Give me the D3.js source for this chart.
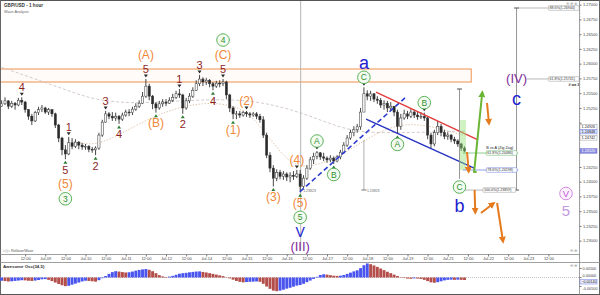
<!DOCTYPE html>
<html><head><meta charset="utf-8">
<script src="https://cdn.jsdelivr.net/npm/d3@7"></script>
<style>
html,body{margin:0;padding:0;background:#fff;}
svg{display:block;font-family:Arial,"Liberation Sans",sans-serif;}
</style></head><body>
<svg id="c" width="600" height="295"></svg>
<script>
// ---------- DATA ----------
const firstOpen = 1.2528;
const closes = [1.2532,1.2537,1.2528,1.2533,1.2530,1.2538,1.2535,1.2522,1.2511,1.2503,
1.2517,1.2522,1.2525,1.2518,1.2522,1.2515,1.2496,1.2474,1.2454,1.2447,
1.2466,1.2460,1.2467,1.2462,1.2459,1.2460,1.2455,1.2454,1.2457,1.2479,
1.2501,1.2515,1.2511,1.2508,1.2511,1.2506,1.2513,1.2518,1.2517,1.2523,
1.2528,1.2533,1.2545,1.2562,1.2545,1.2532,1.2525,1.2532,1.2535,1.2533,
1.2538,1.2543,1.2549,1.2547,1.2525,1.2537,1.2545,1.2555,1.2566,1.2574,
1.2569,1.2572,1.2566,1.2562,1.2567,1.2566,1.2569,1.2547,1.2525,1.2515,
1.2515,1.2513,1.2517,1.2515,1.2513,1.2515,1.2511,1.2505,1.2479,1.2445,
1.2423,1.2406,1.2416,1.2409,1.2413,1.2408,1.2411,1.2409,1.2413,1.2392,
1.2406,1.2423,1.2437,1.2443,1.2449,1.2442,1.2440,1.2437,1.2440,1.2435,
1.2442,1.2450,1.2462,1.2474,1.2483,1.2488,1.2493,1.2518,1.2549,1.2545,
1.2549,1.2540,1.2538,1.2530,1.2533,1.2525,1.2528,1.2518,1.2494,1.2508,
1.2515,1.2511,1.2518,1.2513,1.2510,1.2511,1.2508,1.2479,1.2464,1.2483,
1.2494,1.2483,1.2477,1.2479,1.2472,1.2469,1.2464,1.2457,1.2452];
const highs = [1.2538,1.2543,1.2538,1.2537,1.2535,1.2542,1.2543,1.2537,1.2523,1.2515,
1.2520,1.2527,1.2530,1.2527,1.2525,1.2523,1.2517,1.2498,1.2476,1.2462,
1.2476,1.2474,1.2472,1.2469,1.2466,1.2464,1.2462,1.2459,1.2460,1.2483,
1.2505,1.2520,1.2518,1.2518,1.2517,1.2513,1.2517,1.2522,1.2523,1.2527,
1.2533,1.2538,1.2552,1.2574,1.2566,1.2547,1.2535,1.2537,1.2540,1.2540,
1.2543,1.2549,1.2554,1.2557,1.2549,1.2542,1.2550,1.2560,1.2572,1.2581,
1.2577,1.2576,1.2574,1.2569,1.2571,1.2572,1.2574,1.2571,1.2549,1.2528,
1.2520,1.2520,1.2520,1.2520,1.2518,1.2518,1.2518,1.2515,1.2511,1.2483,
1.2450,1.2428,1.2421,1.2420,1.2418,1.2416,1.2416,1.2418,1.2420,1.2420,
1.2411,1.2428,1.2442,1.2449,1.2452,1.2450,1.2449,1.2443,1.2445,1.2443,
1.2445,1.2454,1.2467,1.2479,1.2488,1.2494,1.2498,1.2525,1.2560,1.2555,
1.2554,1.2550,1.2545,1.2542,1.2538,1.2537,1.2535,1.2528,1.2522,1.2515,
1.2522,1.2520,1.2523,1.2522,1.2518,1.2518,1.2517,1.2510,1.2483,1.2488,
1.2503,1.2498,1.2488,1.2484,1.2481,1.2476,1.2472,1.2466,1.2460];
const lows = [1.2527,1.2530,1.2523,1.2525,1.2522,1.2528,1.2530,1.2517,1.2505,1.2496,
1.2501,1.2513,1.2518,1.2515,1.2513,1.2510,1.2491,1.2467,1.2445,1.2438,
1.2445,1.2455,1.2457,1.2455,1.2454,1.2454,1.2450,1.2449,1.2445,1.2454,
1.2476,1.2500,1.2506,1.2503,1.2503,1.2498,1.2503,1.2510,1.2511,1.2513,
1.2520,1.2525,1.2532,1.2542,1.2538,1.2523,1.2517,1.2522,1.2527,1.2528,
1.2532,1.2535,1.2540,1.2542,1.2515,1.2522,1.2533,1.2542,1.2554,1.2562,
1.2562,1.2564,1.2560,1.2555,1.2559,1.2560,1.2562,1.2540,1.2518,1.2506,
1.2506,1.2508,1.2510,1.2510,1.2508,1.2510,1.2506,1.2500,1.2474,1.2440,
1.2416,1.2392,1.2401,1.2404,1.2403,1.2401,1.2399,1.2403,1.2406,1.2382,
1.2389,1.2403,1.2420,1.2430,1.2438,1.2437,1.2435,1.2432,1.2433,1.2430,
1.2433,1.2438,1.2447,1.2459,1.2471,1.2477,1.2483,1.2488,1.2518,1.2538,
1.2537,1.2535,1.2532,1.2525,1.2522,1.2518,1.2520,1.2511,1.2481,1.2488,
1.2505,1.2506,1.2508,1.2508,1.2505,1.2506,1.2503,1.2472,1.2457,1.2460,
1.2479,1.2477,1.2472,1.2471,1.2467,1.2464,1.2459,1.2452,1.2450];
// Awesome Oscillator, in thousandths
const aoValues = [-1.8,-2.0,-2.2,-2.1,-1.9,-1.7,-1.5,-1.6,-1.8,-1.9,
-1.7,-1.4,-1.0,-0.9,-1.3,-2.0,-2.8,-3.6,-4.3,-4.8,
-4.6,-4.0,-3.4,-2.8,-2.2,-1.8,-1.9,-2.1,-2.3,-1.5,
-0.4,0.8,2.0,3.0,3.5,3.3,3.0,2.8,2.9,3.3,
3.8,4.2,4.5,4.7,4.3,3.5,2.4,1.3,0.6,0.3,
0.5,0.9,1.5,2.1,2.4,2.6,2.9,3.1,3.3,3.4,
3.1,2.8,2.4,2.0,1.6,1.2,0.8,0.2,-0.5,-1.2,
-1.9,-2.4,-2.7,-2.5,-2.4,-2.3,-2.2,-2.4,-3.5,-5.0,
-6.3,-7.3,-7.6,-7.3,-6.8,-6.2,-5.7,-5.1,-4.5,-4.2,
-3.5,-2.6,-1.7,-0.8,0.4,1.4,1.8,1.6,1.3,1.0,
0.9,1.0,1.4,2.0,2.7,3.4,4.0,5.2,6.8,7.8,
7.4,6.7,5.9,5.0,4.1,3.2,2.4,1.6,0.8,0.2,
-0.3,-0.6,-0.7,-0.5,-0.6,-0.8,-1.3,-2.0,-2.7,-2.9,
-2.6,-2.1,-1.6,-1.3,-1.2,-1.3,-1.2,-1.3,-1.4];
// moving averages: [bar, price]
const maSlow = [[0,1.2594],[10,1.2574],[20,1.2554],[28,1.2538],[40,1.2532],[55,1.2538],[70,1.2540],[80,1.2532],[90,1.2516],[100,1.2493],[108,1.2483],[118,1.2483],[128,1.2484],[138,1.2486]];
const maFast = [[20,1.2471],[28,1.2457],[40,1.2496],[50,1.2522],[60,1.2535],[70,1.2530],[76,1.2505],[84,1.2440],[90,1.2420],[100,1.2440],[108,1.2470],[118,1.2500],[128,1.2495],[138,1.2478]];
const priceTicks = [1.27,1.2675,1.265,1.2625,1.26,1.2575,1.255,1.2525,1.25,1.2475,1.245,1.2425,1.24,1.2375,1.235,1.2325,1.23];
const aoTicks = [5,0,-5];
const aoTickLabels = ["0.00500","0.00000","-0.00500"];
const tickHours = [12,24,36,48,60,72,84,96,108,120,132,144,156,168,180,192,204,216,228,240,252,264,276,288,300,312,324];
const timeLabels = ["12:00","Jul-09","12:00","Jul-10","12:00","Jul-11","12:00","Jul-12","12:00","Jul-14","12:00","Jul-15","12:00","Jul-16","12:00","Jul-17","12:00","Jul-18","12:00","Jul-19","12:00","Jul-21","12:00","Jul-22","12:00","Jul-23","12:00"];
// wave labels attached to bars: [text, bar, side, stack, kind]
const waveLabels = [
 ["4",6,"h",0,"num"],["1",20,"h",0,"num"],
 ["5",19,"l",0,"num"],["(5)",19,"l",1,"ora"],["3",19,"l",2,"gc"],
 ["2",28,"l",0,"num"],["3",31,"h",0,"num"],["4",35,"l",0,"num"],
 ["5",43,"h",0,"num"],["(A)",43,"h",1,"ora"],["(B)",46,"l",0,"ora"],
 ["1",53,"h",0,"num"],["2",54,"l",0,"num"],["3",59,"h",0,"num"],["4",63,"l",0,"num"],
 ["5",66,"h",0,"num"],["(C)",66,"h",1,"ora"],["4",66,"h",2,"gc"],
 ["(1)",69,"l",0,"ora"],["(2)",73,"h",0,"ora"],["(3)",81,"l",0,"ora"],["(4)",88,"h",0,"ora"],
 ["(5)",89,"l",0,"ora"],["5",89,"l",1,"gc"],["V",89,"l",2,"blue"],["(III)",89,"l",3,"pur"],
 ["A",94,"h",0,"gc"],["B",99,"l",0,"gc"],["C",108,"h",0,"gc"],["a",108,"h",1,"blueL"],
 ["A",118,"l",0,"gc"],["B",126,"h",0,"gc"]
];
// projected labels: [text, hour, price, kind]
const projLabels = [
 ["C",271,1.2391,"gc"],["b",271,1.2359,"blueL"],["(IV)",305,1.2575,"pur"],["c",305,1.2541,"blueL"],
 ["V",334.5,1.2380,"pc"],["5",334.5,1.2352,"lav"]
];
const fibTags = [ // [hour from, hour to, price, box hour, text, border]
 [305,324,1.26944,324,"88.6%(1.26944)","#999"],
 [311,324,1.25741,324,"61.8%(1.25741)","#999"],
 [271,305,1.23859,285,"100.0%(1.23859)","#999"],
 [273,306,1.24486,287,"61.8%(1.24486)","#5bb55b"],
 [273,306,1.24198,287,"78.6%(1.24198)","#6677dd"]
];
const axisTags = [[1.24926,"1.24926","#fff","#999","#222"],[1.24848,"1.24848","#dde6ff","#6677dd","#222"],[1.24742,"1.24742","#fff","#999","#222"],[1.24520,"1.24520","#8c8ce0","#6b6bd0","#fff"]];

// ---------- SCALES ----------
const W=600,H=295, AX=579.5;
const xs = d3.scaleLinear().domain([0,350]).range([5,592]);
const yP = d3.scaleLinear().domain([1.23,1.27]).range([240.7,4.7]);
const yA = d3.scaleLinear().domain([-5,5]).range([286.5,268.5]);
const barHour = i => 2*i-2;
const bx = i => xs(barHour(i));

const svg = d3.select('#c');
svg.append('rect').attr('width',W).attr('height',H).attr('fill','#fff');
const defs = svg.append('defs');
defs.append('clipPath').attr('id','mc').append('rect').attr('x',1).attr('y',1).attr('width',AX-1).attr('height',250);
function mk(id,color){
  defs.append('marker').attr('id',id).attr('viewBox','0 0 8 8').attr('refX',6).attr('refY',4)
   .attr('markerWidth',7).attr('markerHeight',7).attr('markerUnits','userSpaceOnUse').attr('orient','auto')
   .append('path').attr('d','M0,0L8,4L0,8z').attr('fill',color);
}
mk('ao','#e57b1e'); mk('ag','#6bb535');

const g = svg.append('g').attr('clip-path','url(#mc)');

// zone rectangle
g.append('rect').attr('x',xs(-3)).attr('y',yP(1.2591)).attr('width',xs(278)-xs(-3)).attr('height',yP(1.2569)-yP(1.2591))
 .attr('fill','rgba(250,190,140,0.06)').attr('stroke','#f0a36a').attr('stroke-width',1.2);

// moving averages
const maLine = d3.line().x(d=>bx(d[0])).y(d=>yP(d[1])).curve(d3.curveBasis);
g.append('path').attr('d',maLine(maSlow)).attr('fill','none').attr('stroke','#cfc4c4').attr('stroke-width',0.9).attr('stroke-dasharray','3,2');
g.append('path').attr('d',maLine(maFast)).attr('fill','none').attr('stroke','#dcc2a8').attr('stroke-width',0.9).attr('stroke-dasharray','1.5,1.5');

// vertical marker line at wave (5)
g.append('line').attr('x1',bx(89)+0.5).attr('x2',bx(89)+0.5).attr('y1',0).attr('y2',250).attr('stroke','#b5b5b5').attr('stroke-width',1);
// measurement at bar 108
g.append('line').attr('x1',bx(108)).attr('x2',bx(108)).attr('y1',yP(1.2471)).attr('y2',yP(1.23859)).attr('stroke','#999').attr('stroke-width',0.8);
g.append('line').attr('x1',bx(108)-2.5).attr('x2',bx(108)+2.5).attr('y1',yP(1.23859)).attr('y2',yP(1.23859)).attr('stroke','#777').attr('stroke-width',1);
g.append('text').attr('x',bx(108)+3).attr('y',yP(1.23859)+1.5).attr('font-size',3.5).attr('fill','#666').text('1.23823');
g.append('text').attr('x',bx(89)+3).attr('y',yP(1.23859)+1.5).attr('font-size',3.5).attr('fill','#666').text('1.23823');

// candles
const cg = g.append('g');
closes.forEach((c,i)=>{
  const o = i===0?firstOpen:closes[i-1];
  const x = bx(i);
  cg.append('line').attr('x1',x).attr('x2',x).attr('y1',yP(highs[i])).attr('y2',yP(lows[i])).attr('stroke','#333').attr('stroke-width',0.9);
  const y1=yP(Math.max(o,c)), y2=yP(Math.min(o,c));
  cg.append('rect').attr('x',x-1.1).attr('y',y1).attr('width',2.2).attr('height',Math.max(0.8,y2-y1))
    .attr('fill',c>=o?'#fafafa':'#2a2a2a').attr('stroke','#333').attr('stroke-width',0.5);
});

// trend lines
g.append('line').attr('x1',xs(175.9)).attr('y1',yP(1.2383)).attr('x2',xs(238.5)).attr('y2',yP(1.2542))
 .attr('stroke','#2b3bd0').attr('stroke-width',1.6).attr('stroke-dasharray','5,3');
g.append('line').attr('x1',xs(221.2)).attr('y1',yP(1.2552)).attr('x2',xs(282)).attr('y2',yP(1.2471))
 .attr('stroke','#e23b3b').attr('stroke-width',1.4);
g.append('line').attr('x1',xs(215.3)).attr('y1',yP(1.2506)).attr('x2',xs(279.7)).attr('y2',yP(1.2423))
 .attr('stroke','#2532c2').attr('stroke-width',1.4);

// green translucent box
g.append('rect').attr('x',xs(271.3)).attr('y',yP(1.25047)).attr('width',xs(274.9)-xs(271.3)).attr('height',yP(1.24198)-yP(1.25047))
 .attr('fill','rgba(150,225,120,0.45)');

// fib tool
const fx = xs(305);
g.append('line').attr('x1',fx).attr('x2',fx).attr('y1',yP(1.26944)).attr('y2',yP(1.23859)).attr('stroke','#8a8a8a').attr('stroke-width',0.9);
[1.26944,1.23859].forEach(p=>g.append('line').attr('x1',fx-2.5).attr('x2',fx+2.5).attr('y1',yP(p)).attr('y2',yP(p)).attr('stroke','#555').attr('stroke-width',1));
const vx = xs(271);
g.append('line').attr('x1',vx).attr('x2',vx).attr('y1',yP(1.25571)).attr('y2',yP(1.2405)).attr('stroke','#8a8a8a').attr('stroke-width',0.9);
g.append('line').attr('x1',vx-2.5).attr('x2',vx+2.5).attr('y1',yP(1.25571)).attr('y2',yP(1.25571)).attr('stroke','#555').attr('stroke-width',1);
fibTags.forEach(t=>{
  const y=yP(t[2]);
  g.append('line').attr('x1',xs(t[0])).attr('x2',xs(t[1])).attr('y1',y).attr('y2',y).attr('stroke',t[5]).attr('stroke-width',0.7);
  const bxp=xs(t[3]);
  g.append('rect').attr('x',bxp).attr('y',y-2.3).attr('width',t[4].length*2.05+2).attr('height',4.6).attr('fill','#fff').attr('stroke',t[5]).attr('stroke-width',0.5).attr('rx',0.8);
  g.append('text').attr('x',bxp+1).attr('y',y+1.3).attr('font-size',3.6).attr('fill','#333').text(t[4]);
});
g.append('text').attr('x',xs(287)).attr('y',yP(1.24486)-4).attr('font-size',3.8).attr('fill','#222').text('B vs A (Zig Zag)');
g.append('text').attr('x',xs(336)).attr('y',yP(1.25741)+7).attr('font-size',3.6).attr('font-weight','bold').attr('fill','#333').text('# wa 3');

// arrows
function arrow(h1,p1,h2,p2,id,color,w){
  g.append('line').attr('x1',xs(h1)).attr('y1',yP(p1)).attr('x2',xs(h2)).attr('y2',yP(p2))
   .attr('stroke',color).attr('stroke-width',w).attr('marker-end',id?`url(#${id})`:null);
}
arrow(279.7,1.24164,284.6,1.2552,'ag','#6bb535',2);
arrow(279.2,1.24164,281.2,1.24164,null,'#6bb535',2);
arrow(287.4,1.25334,288.6,1.24978,'ao','#e57b1e',2);
arrow(275.5,1.24503,276.5,1.24164,'ao','#e57b1e',2);
arrow(280.0,1.2386,280.4,1.23469,'ao','#e57b1e',2);
arrow(283.8,1.23469,291.6,1.23639,'ao','#e57b1e',2);
arrow(293.4,1.23639,297.0,1.22978,'ao','#e57b1e',2);

// wave labels
const styles = {
 num:{size:11,color:'#8e1f1f'},
 ora:{size:12,color:'#f0883a'},
 gc:{size:8.5,color:'#2f8f2f',circle:'#4aa84a',bg:'#f3fbf1'},
 blue:{size:14,color:'#2020d0'},
 blueL:{size:18,color:'#2020d0'},
 pur:{size:13,color:'#7e2c9c'},
 pc:{size:9.5,color:'#c25bd2',circle:'#d07ee0',bg:'#fbf1fd'},
 lav:{size:15,color:'#c29ae0'}
};
const lg = svg.append('g');
function drawLabel(x,y,t,kind){
  const s=styles[kind];
  if(s.circle){ lg.append('circle').attr('cx',x).attr('cy',y).attr('r',6.3).attr('fill',s.bg).attr('stroke',s.circle).attr('stroke-width',0.9); }
  lg.append('text').attr('x',x).attr('y',y).attr('text-anchor','middle').attr('dominant-baseline','central')
    .attr('font-size',s.size).attr('fill',s.color).text(t);
}
const seen = new Set();
waveLabels.forEach(([t,i,side,lev,kind])=>{
  const x=bx(i);
  const key=i+side;
  if(!seen.has(key)){
    seen.add(key);
    if(side==='h'){ const y=yP(highs[i])-1.5; lg.append('path').attr('d',`M${x-2},${y-3}L${x+2},${y-3}L${x},${y}z`).attr('fill','#2b2b2b'); }
    else { const y=yP(lows[i])+1.5; lg.append('path').attr('d',`M${x-2},${y+3}L${x+2},${y+3}L${x},${y}z`).attr('fill','#2e7d32'); }
  }
  const y = side==='h' ? yP(highs[i])-10-lev*14.5 : yP(lows[i])+10.5+lev*14.5;
  drawLabel(x,y,t,kind);
});
projLabels.forEach(([t,h,p,kind])=>drawLabel(xs(h),yP(p),t,kind));

// ---------- AXES / FRAME ----------
const fr = svg.append('g');
fr.append('line').attr('x1',0).attr('x2',W).attr('y1',0.5).attr('y2',0.5).attr('stroke','#555');
fr.append('line').attr('x1',0.5).attr('x2',0.5).attr('y1',0).attr('y2',H).attr('stroke','#666');
fr.append('line').attr('x1',W-0.5).attr('x2',W-0.5).attr('y1',0).attr('y2',H).attr('stroke','#666');
fr.append('line').attr('x1',0).attr('x2',W).attr('y1',H-0.5).attr('y2',H-0.5).attr('stroke','#555');
fr.append('line').attr('x1',AX).attr('x2',AX).attr('y1',0).attr('y2',H).attr('stroke','#888').attr('stroke-width',0.8);
fr.append('line').attr('x1',0).attr('x2',AX).attr('y1',254.5).attr('y2',254.5).attr('stroke','#888').attr('stroke-width',0.8);
fr.append('line').attr('x1',0).attr('x2',W).attr('y1',262.5).attr('y2',262.5).attr('stroke','#888').attr('stroke-width',0.8);

// title
svg.append('text').attr('x',4).attr('y',7).attr('font-size',4.6).attr('font-weight','bold').attr('fill','#333').text('GBP/USD - 1 hour');
svg.append('text').attr('x',4).attr('y',12.5).attr('font-size',3.8).attr('fill','#666').text('Wave Analysis');
svg.append('text').attr('x',566).attr('y',4.6).attr('font-size',3.6).attr('fill','#999').text('⊖ ⊕ ⊗');
svg.append('text').attr('x',3).attr('y',252).attr('font-size',3.6).attr('fill','#555').text('◁ ▷  RolloverWave');
svg.append('text').attr('x',570).attr('y',251.5).attr('font-size',3.6).attr('fill','#999').text('⊖ ⊕');
svg.append('text').attr('x',570).attr('y',266.5).attr('font-size',3.6).attr('fill','#999').text('⊖ ⊕');

// price axis (tick labels hidden where a price tag covers them)
const tagPrices = axisTags.map(d=>d[0]);
const pa = svg.append('g').attr('transform',`translate(${AX},0)`)
  .call(d3.axisRight(yP).tickValues(priceTicks)
    .tickFormat(d=> tagPrices.some(p=>Math.abs(yP(p)-yP(d))<5) ? '' : d3.format('.5f')(d))
    .tickSize(2).tickPadding(1.5));
pa.select('.domain').remove();
pa.selectAll('text').attr('font-size',4).attr('fill','#444').attr('font-family','Arial, "Liberation Sans", sans-serif');
pa.selectAll('line').attr('stroke','#777');
const minor = d3.range(1.2300,1.2706,0.0005);
svg.append('g').selectAll('line').data(minor).join('line').attr('x1',AX).attr('x2',AX+1).attr('y1',d=>yP(d)).attr('y2',d=>yP(d)).attr('stroke','#999').attr('stroke-width',0.5);
axisTags.forEach(([p,t,fill,stroke,col])=>{
  const y=yP(p);
  svg.append('rect').attr('x',AX+0.5).attr('y',y-2.4).attr('width',17).attr('height',4.6).attr('fill',fill).attr('stroke',stroke).attr('stroke-width',0.5);
  svg.append('text').attr('x',AX+2).attr('y',y+1.3).attr('font-size',3.8).attr('fill',col).text(t);
});

// time axis
const ta = svg.append('g').attr('transform','translate(0,254.5)')
  .call(d3.axisBottom(xs).tickValues(tickHours).tickFormat((d,i)=>timeLabels[i]).tickSize(2).tickPadding(1));
ta.select('.domain').remove();
ta.selectAll('text').attr('font-size',4).attr('fill','#444').attr('font-family','Arial, "Liberation Sans", sans-serif');
ta.selectAll('line').attr('stroke','#777');

// AO panel
svg.append('text').attr('x',3).attr('y',268).attr('font-size',4.4).attr('font-weight','bold').attr('fill','#333').text('Awesome Osc(34,5)');
svg.append('line').attr('x1',0).attr('x2',AX).attr('y1',yA(0)).attr('y2',yA(0)).attr('stroke','#999').attr('stroke-width',0.6).attr('stroke-dasharray','1,1');
const ag = svg.append('g');
aoValues.forEach((v,i)=>{
  const prev = i===0? v-1 : aoValues[i-1];
  ag.append('rect').attr('x',bx(i)-1.45).attr('width',2.9)
    .attr('y',yA(Math.max(0,v))).attr('height',Math.abs(yA(v)-yA(0)))
    .attr('fill', v>=prev ? '#4a55ee' : '#b34e4a');
});
const aoLabelY = [268.5,275.8,288.2];
aoTicks.forEach((v,k)=>{
  svg.append('line').attr('x1',AX).attr('x2',AX+2).attr('y1',yA(v)).attr('y2',yA(v)).attr('stroke','#777');
  svg.append('text').attr('x',AX+3).attr('y',aoLabelY[k]+1.3).attr('font-size',3.8).attr('fill','#444').text(aoTickLabels[k]);
});
const lastAO = aoValues[aoValues.length-1];
svg.append('rect').attr('x',AX+0.5).attr('y',279.6).attr('width',17).attr('height',4.4).attr('fill','#eef').attr('stroke','#6677dd').attr('stroke-width',0.5);
svg.append('text').attr('x',AX+2).attr('y',282.9).attr('font-size',3.6).attr('fill','#222').text(d3.format('.5f')(lastAO/1000));
</script>
</body></html>
